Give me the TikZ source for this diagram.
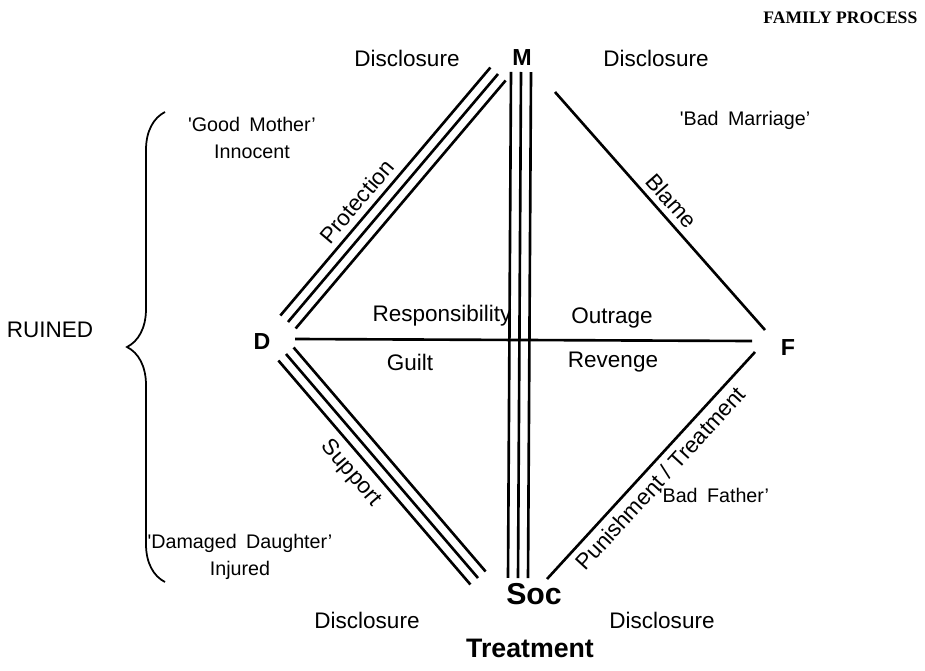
\documentclass[tikz,border=0pt]{standalone}
\usepackage{fontspec}
\setmainfont{Liberation Sans}
\newfontfamily\journalfont{Liberation Serif}
\usetikzlibrary{calc, decorations.pathreplacing}

\tikzset{
  lbl/.style={font=\fontsize{6.4}{8.2}\selectfont},
  role/.style={font=\fontsize{5.6}{7.6}\selectfont, align=center},
  corner/.style={font=\fontsize{6.6}{8}\selectfont\bfseries},
  rel/.style={line width=0.75pt},
  along/.style={lbl, inner sep=1pt},
}

\begin{document}
\begin{tikzpicture}[x=0.01cm, y=-0.01cm]
  \useasboundingbox (0,0) rectangle (925,670);

  \node[font=\fontsize{5}{6}\selectfont\journalfont\bfseries, anchor=east, inner sep=0pt] (title) at (918,18) {FAMILY PROCESS};

  % corners
  \node[corner] (M) at (522,58) {M};
  \node[corner] (D) at (262,342) {D};
  \node[corner] (F) at (788,348) {F};
  \node[font=\fontsize{8.6}{10}\selectfont\bfseries] (S) at (534,594) {Soc};
  \node[font=\fontsize{7.6}{9}\selectfont\bfseries] (T) at (530,648) {Treatment};

  % line ends
  \coordinate (dm) at (288,322);
  \coordinate (md) at (498,74);
  \coordinate (ms) at (521,72);
  \coordinate (sm) at (518,578);
  \coordinate (ds) at (286,354);
  \coordinate (sd) at (478,578);
  \coordinate (mf) at (555,92);
  \coordinate (fm) at (765,330);
  \coordinate (df) at (295,339);
  \coordinate (fd) at (752,341);
  \coordinate (sf) at (547,579);
  \coordinate (fs) at (755,352);

  \foreach \d in {-1mm,0mm,1mm} {
    \draw[rel] ($(dm)!\d!90:(md)$) -- ($(md)!\d!-90:(dm)$);
    \draw[rel] ($(ms)!\d!90:(sm)$) -- ($(sm)!\d!-90:(ms)$);
    \draw[rel] ($(ds)!\d!90:(sd)$) -- ($(sd)!\d!-90:(ds)$);
  }
  \draw[rel] (mf) -- (fm);
  \draw[rel] (df) -- (fd);
  \draw[rel] (sf) -- (fs);

  \node[along, rotate=49.7, anchor=south] (prot) at ($(dm)!0.42!(md)!0.13cm!90:(md)$) {Protection};
  \node[along, rotate=-48.6, anchor=south] (blame) at ($(mf)!0.5!(fm)!0.03cm!90:(fm)$) {Blame};
  \node[along, rotate=-49.4, anchor=north] (supp) at ($(ds)!0.45!(sd)!0.14cm!-90:(sd)$) {Support};
  \node[along, rotate=47.5, anchor=north] (pun) at ($(sf)!0.49!(fs)!0.03cm!-90:(fs)$) {Punishment / Treatment};

  %%%

  \node[lbl] (resp) at (442,316) {Responsibility};
  \node[lbl] (outr) at (612,318) {Outrage};
  \node[lbl] (guilt) at (410,362) {Guilt};
  \node[lbl] (rev) at (613,362) {Revenge};

  \node[lbl] (dml) at (407,58) {Disclosure};
  \node[lbl] (dmr) at (656,58) {Disclosure};
  \node[lbl] (dsl) at (367,620) {Disclosure};
  \node[lbl] (dsr) at (662,620) {Disclosure};

  \node[role] (good) at (252,138) {\textquotesingle Good\hspace{0.2em} Mother'\\Innocent};
  \node[role] (marr) at (745,120) {\textquotesingle Bad\hspace{0.2em} Marriage'};
  \node[role] (dam) at (240,557) {\textquotesingle Damaged\hspace{0.2em} Daughter'\\Injured};
  \node[role] (fath) at (714,495) {\textquotesingle Bad\hspace{0.2em} Father'};

  \node[lbl] (ruin) at (50,330) {RUINED};
  \draw[line width=0.5pt, decorate, decoration={brace, amplitude=0.38cm}] (165,582) -- (165,112);
\end{tikzpicture}
\end{document}
